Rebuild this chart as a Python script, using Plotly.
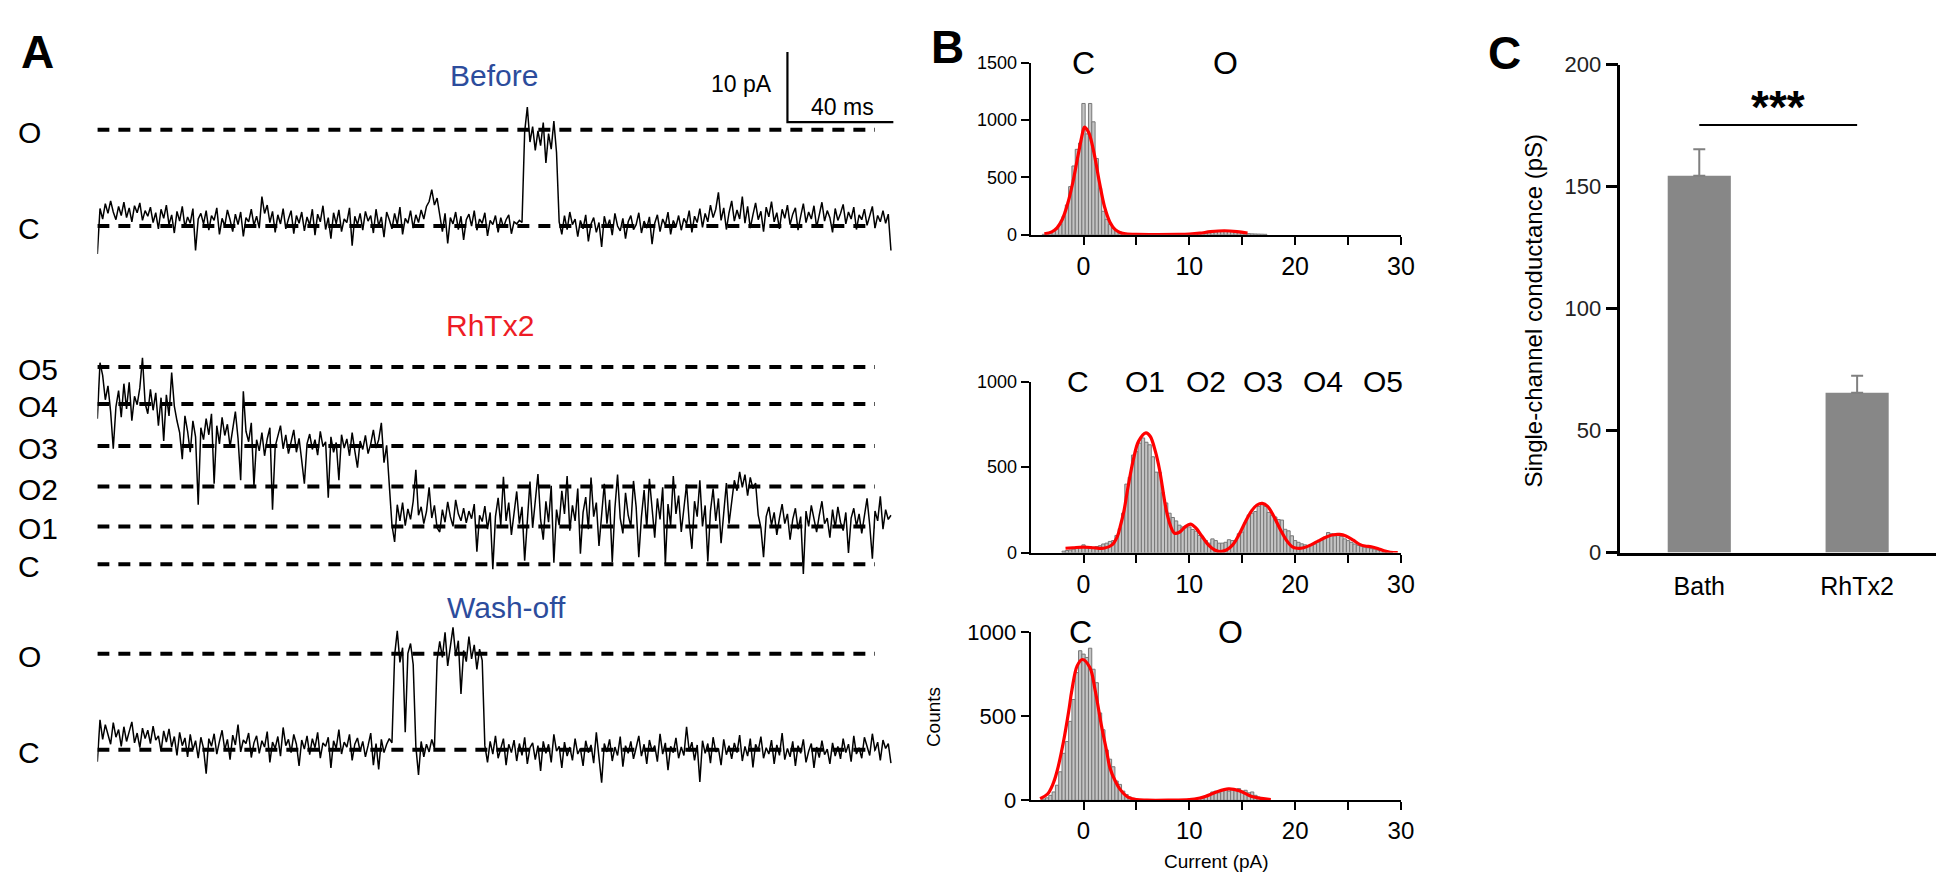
import plotly.graph_objects as go

W, H = 1950, 887
FONT = "Liberation Sans, Arial, Helvetica, sans-serif"
BLUE = "#2c4c9c"
RED = "#ee1c25"

# ---------------- Panel A: single-channel current traces (pA, 1 ms per sample) ----------------
trace_dt_ms = 1.0
before_pA = [
    -4.0, 2.5, 1.0, 3.2, 1.8, 3.6, 2.0, 0.9, 2.8, 1.5, 3.4, 1.2, 2.6, 0.6, 2.9, 1.9, 3.3, 0.8, 2.2, 1.4,
    2.7, 0.5, 1.9, -0.4, 2.4, 1.1, 3.0, 0.2, 1.6, -1.0, 2.1, 0.7, 2.8, -0.2, 1.3, 0.4, 2.5, -3.5, 1.0, 1.8,
    0.3, 2.2, -0.6, 1.5, 0.8, 2.6, -1.2, 1.1, 0.0, 2.3, 0.9, -0.8, 1.7, 0.2, 2.0, -1.5, 1.2, 0.6, 2.4, 0.1,
    1.4, -0.3, 4.2, 1.8, 3.0, 0.5, 2.1, -0.9, 1.6, 0.3, 2.5, -0.4, 1.0, 2.2, -1.1, 1.5, 0.4, 2.0, -0.7, 1.3,
    0.1, 2.4, -1.3, 1.7, 0.6, 2.9, -0.5, 1.2, -1.8, 1.9, 0.3, 2.3, -0.8, 1.0, 0.5, 2.6, -2.8, 1.4, 0.2, 1.8,
    -0.6, 2.1, 0.7, 1.5, -1.0, 2.4, 0.0, 1.3, -1.6, 2.0, 0.9, -0.4, 1.8, 0.2, 2.7, -1.2, 1.1, 0.4, 2.2, -0.3,
    1.6, 0.5, 2.3, 1.0, 2.8, 3.5, 5.2, 3.0, 4.0, 1.5, -0.8, 1.8, -2.5, 1.2, 0.3, 2.0, -0.5, 1.4, -2.0, 0.9,
    1.7, 0.0, 2.2, -0.6, 1.0, 0.4, 1.9, -1.4, 0.8, 0.2, 1.5, -0.9, 1.2, -0.2, 0.9, 1.6, -1.1, 0.6, 0.3, 0.8,
    0.5, 13.5, 17.0, 12.0, 14.2, 10.8, 13.6, 11.5, 14.8, 9.0, 13.2, 11.0, 15.0, 10.5, 0.6, -1.2, 1.5, -0.5, 2.0, 0.2,
    1.0, -1.5, 0.8, -0.4, 1.6, -2.2, 0.3, 1.2, -0.9, 0.5, -3.0, 1.4, -0.2, 0.9, -1.3, 1.8, 0.0, -0.7, 1.1, -1.8,
    0.6, 1.5, -0.5, 0.2, 1.9, -1.0, 0.7, -0.3, 1.3, -2.6, 0.4, 1.6, -0.8, 1.0, 0.1, 2.0, -1.2, 0.8, -0.1, 1.5,
    -0.6, 1.1, 0.3, 2.2, -0.9, 1.4, 0.5, 2.5, -0.2, 1.8, 0.6, 3.0, 1.2, 2.4, 4.8, 0.8, 2.6, -0.5, 1.9, 3.6,
    0.7, 2.3, 1.0, 4.2, 0.4, 2.8, -0.3, 1.6, 3.3, 0.9, 2.1, -0.8, 2.7, 1.3, 3.5, 0.6, 1.9, -0.4, 2.4, 1.1,
    3.0, 0.2, 1.7, 2.6, -0.6, 1.4, 3.2, 0.5, 2.0, 1.0, 2.9, -0.2, 1.5, 3.4, 0.7, 2.2, 1.2, -0.9, 2.5, 0.8,
    1.8, 3.1, 0.3, 2.0, 1.0, 2.7, -0.5, 1.6, 0.9, 2.4, 0.1, 1.3, 2.8, -0.3, 1.5, 0.6, 2.2, 0.4, 1.7, -3.5,
]
rhtx2_pA = [
    20.8, 28.8, 27.0, 23.5, 25.5, 21.8, 16.5, 22.5, 24.8, 21.0, 25.8, 22.2, 26.0, 20.5, 24.0, 22.8, 25.2, 29.5, 23.0, 21.5,
    25.0, 22.0, 24.5, 19.8, 23.8, 17.6, 24.2, 21.2, 27.4, 22.6, 20.5, 18.8, 15.0, 21.2, 19.0, 16.0, 20.5, 18.2, 8.5, 19.5,
    17.8, 20.8, 18.5, 21.5, 11.5, 19.8, 17.2, 21.0, 18.4, 20.0, 16.8, 19.5, 21.8, 18.0, 12.0, 24.7, 19.0, 17.5, 20.2, 11.2,
    17.8, 16.2, 18.8, 15.5, 17.9, 19.5, 7.8, 16.8, 18.2, 19.8, 16.5, 18.5, 15.8, 17.6, 19.2, 16.0, 18.0, 14.8, 11.5, 17.2,
    18.6, 16.4, 17.8, 15.6, 19.0, 16.8, 17.5, 9.5, 18.2, 16.0, 17.4, 12.0, 18.5, 16.6, 17.9, 15.5, 18.8, 16.2, 13.8, 17.6,
    16.4, 18.4, 15.8, 17.2, 19.2, 16.6, 17.8, 20.2, 14.5, 17.0, 11.1, 5.6, 3.2, 8.5, 6.2, 8.8, 5.5, 7.9, 6.4, 9.0,
    13.5, 7.0, 8.2, 5.8, 7.5, 11.0, 6.6, 8.4, 5.2, 4.6, 7.8, 6.0, 8.9, 6.8, 5.4, 9.2, 7.2, 6.2, 8.0, 5.9,
    7.6, 6.5, 8.6, 1.8, 7.0, 6.1, 8.3, 5.0, 7.4, -0.7, 6.8, 9.5, 5.6, 12.5, 6.2, 8.8, 4.2, 7.6, 10.4, 5.8,
    8.2, 0.5, 7.0, 11.8, 5.2, 8.6, 12.9, 6.4, 3.5, 9.0, 6.0, 11.2, 0.2, 7.8, 5.6, 10.5, 7.2, 12.6, 4.8, 8.4,
    6.2, 10.8, 1.5, 7.4, 9.6, 5.0, 12.4, 6.8, 8.8, 2.6, 7.6, 11.5, 5.8, 9.2, 0.3, 8.0, 12.8, 6.6, 4.4, 10.2,
    7.0, 5.4, 11.9, 8.2, 1.0, 6.8, 10.6, 5.2, 12.2, 7.4, 3.8, 9.4, 6.4, 11.0, 0.0, 8.6, 5.6, 12.6, 7.2, 9.8,
    4.6, 8.0, 11.4, 6.0, 2.2, 9.0, 6.8, 12.0, 5.4, 8.4, 0.4, 7.6, 10.8, 6.2, 9.4, 3.0, 7.8, 11.6, 5.8, 8.8,
    12.0, 10.5, 13.2, 11.0, 12.8, 9.8, 12.4, 10.8, 11.6, 7.0, 5.2, 1.0, 6.8, 8.2, 5.6, 7.4, 4.2, 6.6, 8.6, 5.8,
    7.2, 3.5, 6.4, 8.0, 5.0, 6.8, -1.4, 7.6, 5.4, 8.4, 6.2, 4.6, 7.0, 9.0, 5.8, 6.6, 3.8, 7.8, 5.2, 8.2,
    6.0, 4.8, 7.4, 1.6, 6.6, 8.0, 5.4, 7.2, 4.4, 6.8, 9.4, 5.6, 0.8, 7.6, 6.2, 9.7, 5.0, 7.8, 6.4, 7.0,
]
washoff_pA = [
    -1.7, 4.3, 1.5, 3.6, 2.2, 0.8, 3.9, 1.8, 2.9, 0.5, 3.3, 1.2, 2.6, 4.0, 1.0, 2.4, 0.3, 3.1, 1.6, 2.8,
    0.9, 3.4, 1.4, 2.0, -0.2, 2.7, 1.1, 3.0, 0.4, 1.9, -0.8, 2.5, 0.6, 1.7, -1.0, 2.2, 0.0, 1.3, -1.2, 1.8,
    0.2, -3.4, 1.6, 0.5, 2.3, -0.6, 1.2, 2.8, 0.0, 1.5, -1.4, 2.1, 0.7, 3.6, -0.3, 1.4, 0.9, 2.4, -1.1, 1.0,
    2.0, -0.5, 1.3, 0.4, 2.6, -1.8, 1.1, 0.2, 1.9, -0.9, 3.2, 0.6, 1.5, -0.4, 2.2, 0.8, -2.3, 1.4, 0.1, 2.0,
    -0.7, 1.6, 0.3, 2.5, -1.2, 1.0, 0.5, 1.8, -2.6, 1.3, 0.2, 2.9, -0.6, 1.1, 0.4, 2.2, -1.5, 0.8, 1.7, -0.2,
    1.2, -1.0, 0.6, 2.4, -2.2, 0.9, -2.8, 1.5, -0.4, 0.8, 1.6, 1.0, 13.5, 17.0, 12.5, 14.6, 2.5, 13.8, 15.2, 12.2,
    0.5, -3.6, 1.2, -1.0, 0.8, -0.3, 1.5, 0.2, 12.8, 15.5, 13.2, 16.8, 12.0, 14.8, 17.5, 13.4, 15.6, 8.0, 14.2, 12.6,
    16.2, 13.0, 15.0, 11.5, 14.4, 12.8, 0.6, -1.8, 1.2, -0.6, 2.0, -1.2, 0.4, 1.6, -2.2, 0.8, -0.4, 1.4, -1.6, 0.9,
    -0.8, 1.8, -2.0, 0.3, 1.0, -1.4, 0.6, -3.0, 1.2, -0.5, 0.8, -1.8, 2.2, -0.2, 0.5, -2.6, 1.1, -0.9, 0.4, -1.5,
    1.6, -0.6, 0.2, -2.3, 1.3, -0.4, 0.7, -1.9, 2.5, -1.0, -4.7, 0.9, -0.3, 1.5, -1.6, 0.4, -0.8, 1.9, -2.4, 0.6,
    -0.5, 1.2, -1.3, 0.3, 2.0, -0.9, 0.8, -2.0, 1.4, -0.2, 0.6, -1.7, 2.3, -0.6, 1.0, -2.9, 0.5, -0.4, 1.7, -1.2,
    0.4, -0.8, 3.3, -0.2, 1.1, -1.5, 0.7, -4.6, 1.3, -0.5, 0.9, -1.9, 1.8, -0.3, 0.2, -2.2, 1.5, -0.7, 0.6, -1.3,
    1.0, -0.4, 2.1, -1.6, 0.5, -0.9, 1.6, -2.5, 0.8, -0.1, 1.9, -1.2, 0.3, -0.6, 1.4, -2.0, 0.7, -0.8, 2.4, -1.4,
    0.2, -1.0, 1.2, -2.3, 0.6, -0.5, 1.5, -1.8, -0.2, 0.9, -2.6, 0.4, -1.1, 1.3, -0.7, 0.1, -2.0, 1.0, -0.9, 0.5,
    -1.3, 1.6, -0.4, 0.8, -1.7, 2.0, -0.6, 0.3, -1.2, 1.8, 0.5, -0.8, 2.3, -0.1, 1.1, -1.5, 1.4, 0.2, 0.9, -1.9,
]
before_level_names = ["O", "C"]
before_levels = [13.75, 0.0]
rhtx2_level_names = ["O5", "O4", "O3", "O2", "O1", "C"]
rhtx2_levels = [28.2, 22.9, 16.9, 11.1, 5.4, 0.0]
washoff_level_names = ["O", "C"]
washoff_levels = [13.75, 0.0]
level_line_end_ms = 293
scalebar_pA = 10
scalebar_ms = 40

# ---------------- Panel B: amplitude histograms ----------------
bin_width = 0.3125
hist_top_start = -3.75
hist_top_counts = [4, 8, 15, 30, 50, 90, 160, 260, 420, 600, 745, 800, 1145, 880, 1145, 985, 665, 405, 205, 135,
                   90, 55, 38, 25, 15, 9, 5, 3,
                   2, 2, 1, 2, 1, 2, 1, 1, 2, 1, 2, 2, 3, 2, 3, 4,
                   4, 5, 8, 10, 12, 15, 18, 22, 25, 28, 30, 32, 30, 28, 26, 22, 18, 12, 10, 8, 7, 6, 5, 4]
fit_top_x = [-3.7, -3.0, -2.5, -2.0, -1.5, -1.0, -0.5, 0.0, 0.1, 0.5, 1.0, 1.5, 2.0, 2.5, 3.0, 3.5, 4.0, 5.0,
             7.0, 9.0, 10.0, 11.0, 12.0, 13.3, 14.5, 15.5]
fit_top_y = [8, 25, 60, 135, 270, 460, 700, 920, 940, 890, 710, 460, 240, 110, 45, 18, 8, 3,
             2, 3, 6, 14, 27, 35, 28, 15]

hist_mid_start = -1.875
hist_mid_counts = [8, 12, 15, 20, 25, 30, 45, 35, 35, 30, 35, 40, 50, 55, 65, 70, 100, 140, 230, 400,
                   440, 570, 590, 640, 670, 645, 630, 560, 470, 470, 350, 290, 230, 205, 185, 160, 150, 145, 150, 135,
                   125, 100, 85, 70, 55, 80, 70, 55, 55, 60, 75, 70, 70, 110, 120, 175, 220, 230, 240, 270,
                   280, 270, 235, 216, 208, 193, 190, 136, 127, 98, 70, 60, 51, 45, 40, 45, 50, 60, 70, 90,
                   117, 110, 98, 100, 95, 80, 70, 60, 50, 42, 38, 32, 28, 23, 20, 15, 13, 8, 5, 3]
fit_mid_x = [-1.7, -1.0, 0.0, 1.0, 1.9, 2.7, 3.2, 3.5, 3.8, 4.2, 4.7, 5.2, 5.9, 6.3, 6.8, 7.2, 7.8, 8.2, 8.6,
             9.1, 9.6, 10.1, 10.6, 11.2, 11.8, 12.4, 12.9, 13.5, 14.1, 14.7, 15.3, 15.9, 16.4, 16.9, 17.4,
             18.0, 18.6, 19.2, 19.7, 20.2, 20.8, 21.5, 22.2, 22.9, 23.6, 24.2, 24.8, 25.5, 26.1, 26.6, 27.2,
             27.8, 28.4, 29.0, 29.7]
fit_mid_y = [25, 28, 32, 28, 25, 45, 95, 160, 236, 380, 540, 650, 700, 680, 590, 480, 255, 160, 113,
             120, 150, 166, 145, 95, 45, 15, 6, 15, 45, 105, 180, 245, 278, 287, 270,
             210, 135, 70, 35, 25, 28, 45, 68, 90, 104, 106, 97, 72, 48, 38, 34,
             24, 10, 2, 0]

hist_bot_start = -3.75
hist_bot_counts = [8, 15, 30, 50, 90, 170, 280, 350, 470, 600, 760, 890, 870, 850, 905, 780, 700, 520, 420, 300,
                   245, 200, 115, 95, 55, 35, 20, 12, 6, 3, 2,
                   1, 1, 0, 1, 1, 0, 1, 1, 1, 2, 1, 2, 2,
                   3, 6, 10, 15, 20, 28, 35, 50, 55, 45, 60, 65, 55, 70, 60, 70, 55, 60, 45, 50, 30, 20, 12, 6, 3]
fit_bot_x = [-4.1, -3.4, -2.9, -2.5, -1.9, -1.4, -1.1, -0.6, -0.1, 0.6, 1.1, 1.7, 2.2, 2.5, 3.0, 3.44, 4.2,
             5.0, 6.0, 8.0, 10.0, 11.0, 11.5, 12.5, 13.7, 14.7, 15.9, 16.8, 17.7]
fit_bot_y = [10, 38, 95, 173, 347, 530, 655, 800, 838, 790, 655, 443, 289, 193, 115, 67, 19,
             4, 1, 1, 4, 14, 23, 48, 68, 58, 23, 12, 5]

hist_state_labels_top = ["C", "O"]
hist_state_pos_top = [0.0, 13.4]
hist_state_labels_mid = ["C", "O1", "O2", "O3", "O4", "O5"]
hist_state_pos_mid = [-0.5, 5.8, 11.6, 17.0, 22.6, 28.3]
hist_state_labels_bot = ["C", "O"]
hist_state_pos_bot = [-0.3, 13.9]

# ---------------- Panel C: conductance ----------------
groups = ["Bath", "RhTx2"]
conductance_pS = [154.5, 65.5]
conductance_sem = [10.8, 7.0]
sig_label = "***"
sig_level = 175.3

# ================= layout helpers =================
def xd(a, b):
    return [a / W, b / W]

def yd(top, bottom):
    return [1 - bottom / H, 1 - top / H]

def px(x):
    return x / W

def py(y):
    return 1 - y / H

PXPA = 7.2  # px per pA in panel A
def trace_range(top, bottom, zero):
    return [-(bottom - zero) / PXPA, (zero - top) / PXPA]

fig = go.Figure()

# ---- Panel A ----
panelA = [
    ("x", "y", before_pA, before_levels, before_level_names),
    ("x2", "y2", rhtx2_pA, rhtx2_levels, rhtx2_level_names),
    ("x3", "y3", washoff_pA, washoff_levels, washoff_level_names),
]
for xa, ya, vals, levels, names in panelA:
    for lv in levels:
        fig.add_trace(go.Scatter(x=[0, level_line_end_ms], y=[lv, lv], mode="lines",
                                 line=dict(color="black", width=4, dash="12px,9px"),
                                 xaxis=xa, yaxis=ya, hoverinfo="skip"))
    t = [i * trace_dt_ms for i in range(len(vals))]
    fig.add_trace(go.Scatter(x=t, y=vals, mode="lines", line=dict(color="black", width=1.5),
                             xaxis=xa, yaxis=ya))

# scale bar in "Before" axes
sb_t0 = 260.0
sb_top = 24.86
fig.add_trace(go.Scatter(x=[sb_t0, sb_t0, sb_t0 + scalebar_ms],
                         y=[sb_top, sb_top - scalebar_pA, sb_top - scalebar_pA],
                         mode="lines", line=dict(color="black", width=2.2), xaxis="x", yaxis="y"))

# ---- Panel B ----
hists = [
    ("x4", "y4", hist_top_start, hist_top_counts, fit_top_x, fit_top_y),
    ("x5", "y5", hist_mid_start, hist_mid_counts, fit_mid_x, fit_mid_y),
    ("x6", "y6", hist_bot_start, hist_bot_counts, fit_bot_x, fit_bot_y),
]
for xa, ya, start, counts, fx, fy in hists:
    centers = [start + i * bin_width for i in range(len(counts))]
    fig.add_trace(go.Bar(x=centers, y=counts, width=bin_width,
                         marker=dict(color="#c4c4c4", line=dict(color="#777777", width=1)),
                         xaxis=xa, yaxis=ya))
    fig.add_trace(go.Scatter(x=fx, y=fy, mode="lines", line=dict(color="#ff0000", width=3.2, shape="spline"),
                             xaxis=xa, yaxis=ya))

# ---- Panel C ----
fig.add_trace(go.Bar(x=groups, y=conductance_pS, width=0.4,
                     marker=dict(color="#878787", line=dict(width=0)),
                     error_y=dict(type="data", symmetric=False, array=conductance_sem, arrayminus=[0, 0],
                                  color="#808080", thickness=2, width=6),
                     xaxis="x7", yaxis="y7"))
fig.add_trace(go.Scatter(x=groups, y=[sig_level, sig_level], mode="lines",
                         line=dict(color="black", width=2), xaxis="x7", yaxis="y7"))

# ---- axes ----
hidden = dict(visible=False, fixedrange=True)
lay = dict(
    xaxis=dict(domain=xd(90, 892), range=[0, 300], anchor="y", **hidden),
    yaxis=dict(domain=yd(20, 255), range=trace_range(20, 255, 212), anchor="x", **hidden),
    xaxis2=dict(domain=xd(90, 892), range=[0, 300], anchor="y2", **hidden),
    yaxis2=dict(domain=yd(330, 590), range=trace_range(330, 590, 560), anchor="x2", **hidden),
    xaxis3=dict(domain=xd(90, 892), range=[0, 300], anchor="y3", **hidden),
    yaxis3=dict(domain=yd(615, 800), range=trace_range(615, 800, 751), anchor="x3", **hidden),
)

def hist_x(anchor, fs):
    return dict(domain=xd(1030, 1403), range=[-5, 30], anchor=anchor, showline=True, linecolor="black",
                linewidth=2, ticks="outside", tickvals=[0, 10, 20, 30], ticklen=8, tickwidth=2,
                tickcolor="black", tickfont=dict(size=fs, color="black", family=FONT), showgrid=False,
                zeroline=False, minor=dict(tickvals=[5, 15, 25], ticks="outside", ticklen=8, tickwidth=2,
                                           tickcolor="black"))

def hist_y(anchor, dom, rng, tv, fs):
    return dict(domain=dom, range=rng, anchor=anchor, showline=True, linecolor="black", linewidth=2,
                ticks="outside", tickvals=tv, ticklen=8, tickwidth=2, tickcolor="black",
                tickfont=dict(size=fs, color="black", family=FONT), showgrid=False, zeroline=False)

lay["xaxis4"] = hist_x("y4", 25)
lay["yaxis4"] = hist_y("x4", yd(44, 221), [0, 1500], [0, 500, 1000, 1500], 18)
lay["xaxis5"] = hist_x("y5", 25)
lay["yaxis5"] = hist_y("x5", yd(372, 548), [0, 1000], [0, 500, 1000], 18)
lay["xaxis6"] = hist_x("y6", 24)
lay["yaxis6"] = hist_y("x6", yd(630, 803), [0, 1000], [0, 500, 1000], 22)

lay["xaxis7"] = dict(domain=xd(1624, 1942), range=[-0.5, 1.5], anchor="y7", type="category",
                     showline=True, linecolor="black", linewidth=2.5, ticks="outside", ticklen=10,
                     tickcolor="rgba(0,0,0,0)", tickfont=dict(size=25, color="black", family=FONT),
                     showgrid=False, zeroline=False)
lay["yaxis7"] = dict(domain=yd(46, 548), range=[0, 200], anchor="x7", showline=True, linecolor="black",
                     linewidth=2.5, ticks="outside", tickvals=[0, 50, 100, 150, 200], ticklen=12, tickwidth=2.5,
                     tickcolor="black", tickfont=dict(size=22, color="#222222", family=FONT),
                     showgrid=False, zeroline=False)

ann = []
def txt(x, y, s, size, color="black", xanchor="center", angle=0):
    ann.append(dict(x=px(x), y=py(y), xref="paper", yref="paper", text=s, showarrow=False,
                    font=dict(size=size, color=color, family=FONT), xanchor=xanchor, yanchor="middle",
                    textangle=angle))

# panel letters
txt(30, 33, "<b>A</b>", 46)
txt(946, 28, "<b>B</b>", 46)
txt(1507, 34, "<b>C</b>", 46)

# Panel A titles and scale bar labels
txt(490, 57, "Before", 30, BLUE)
txt(485, 314, "RhTx2", 30, RED)
txt(502, 605, "Wash-off", 30, BLUE)
txt(772, 66, "10 pA", 23, xanchor="right")
txt(841, 90, "40 ms", 23)

# Panel A level labels (in data coordinates of each trace axis)
for ya, levels, names in [("y", before_levels, before_level_names),
                          ("y2", rhtx2_levels, rhtx2_level_names),
                          ("y3", washoff_levels, washoff_level_names)]:
    for lv, nm in zip(levels, names):
        ann.append(dict(x=px(8), xref="paper", y=lv, yref=ya, text=nm, showarrow=False,
                        font=dict(size=30, color="black", family=FONT), xanchor="left", yanchor="top",
                        yshift=16))

# Panel B state labels
for xa, ya, labs, pos, yv, fs in [("x4", "y4", hist_state_labels_top, hist_state_pos_top, 1500, 32),
                                  ("x5", "y5", hist_state_labels_mid, hist_state_pos_mid, 1000, 30),
                                  ("x6", "y6", hist_state_labels_bot, hist_state_pos_bot, 1000, 32)]:
    for l, p in zip(labs, pos):
        ann.append(dict(x=p, y=yv, xref=xa, yref=ya, text=l, showarrow=False,
                        font=dict(size=fs, color="black", family=FONT), xanchor="center", yanchor="middle"))

txt(1217, 866, "Current (pA)", 19)
txt(932, 717, "Counts", 19, angle=-90)

# Panel C labels
txt(1537, 299, "Single-channel conductance (pS)", 24, angle=-90)
ann.append(dict(x=0.5, y=sig_level, xref="x7", yref="y7", text="<b>" + sig_label + "</b>", showarrow=False,
                font=dict(size=46, color="black", family=FONT), xanchor="center", yanchor="bottom", yshift=-10))

fig.update_layout(width=W, height=H, margin=dict(l=0, r=0, t=0, b=0), paper_bgcolor="white",
                  plot_bgcolor="rgba(0,0,0,0)", showlegend=False, barmode="overlay",
                  font=dict(family=FONT, color="black"), annotations=ann, **lay)

fig.write_html("out.html")
